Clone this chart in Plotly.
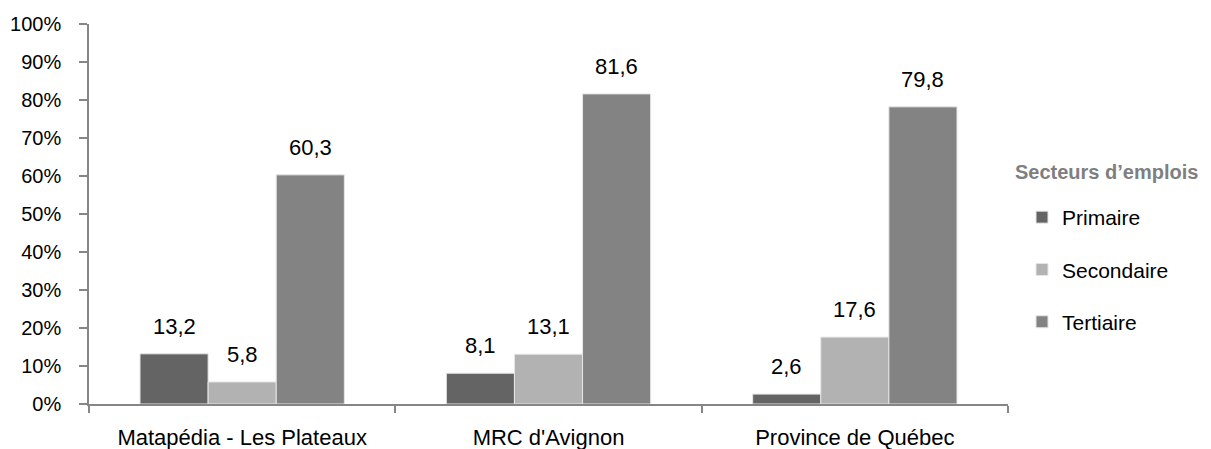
import plotly.graph_objects as go

categories = ["Matapédia - Les Plateaux", "MRC d'Avignon", "Province de Québec"]
series_names = ["Primaire", "Secondaire", "Tertiaire"]
primaire = [13.2, 8.1, 2.6]
secondaire = [5.8, 13.1, 17.6]
tertiaire = [60.3, 81.6, 78.2]
labels_primaire = ["13,2", "8,1", "2,6"]
labels_secondaire = ["5,8", "13,1", "17,6"]
labels_tertiaire = ["60,3", "81,6", "79,8"]
y_tickvals = [0, 10, 20, 30, 40, 50, 60, 70, 80, 90, 100]
y_ticktext = [f"{v}%" for v in y_tickvals]
legend_title = "Secteurs d’emplois"

colors = ["#646464", "#b2b2b2", "#838383"]
FONT = "Liberation Sans, Arial, sans-serif"

# page has an 8px body margin: figure drawn 8px in from the top-left corner
W, H = 1203, 441
L, T, R, B = 81, 16, 203, 45
plot_w = W - L - R
plot_h = H - T - B

fig = go.Figure()
all_values = [primaire, secondaire, tertiaire]
all_labels = [labels_primaire, labels_secondaire, labels_tertiaire]
for i, (name, vals) in enumerate(zip(series_names, all_values)):
    fig.add_trace(go.Bar(
        x=categories, y=vals, name=name,
        marker=dict(color=colors[i], line=dict(color="#e6e6e6", width=1)),
        legendgroup=name,
    ))

annotations = []
for i, (vals, labs) in enumerate(zip(all_values, all_labels)):
    for c, v, t in zip(categories, vals, labs):
        annotations.append(dict(
            x=c, y=v, text=t, showarrow=False, xref="x", yref="y",
            yanchor="bottom", yshift=13, xshift=(i - 1) * 68,
            font=dict(family=FONT, size=22, color="#000000"),
        ))

# legend title as a separate text so its indent can match the reference
annotations.append(dict(
    text=f"<b>{legend_title}</b>", showarrow=False,
    xref="paper", yref="paper", x=(1005 - L) / plot_w, y=(H - B - 164) / plot_h,
    xanchor="left", yanchor="middle",
    font=dict(family=FONT, size=20, color="#7f7f7f"),
))

fig.update_layout(
    width=W, height=H,
    margin=dict(l=L, r=R, t=T, b=B),
    paper_bgcolor="white", plot_bgcolor="white",
    barmode="group", bargap=0.333, bargroupgap=0,
    font=dict(family=FONT, size=20, color="#000000"),
    annotations=annotations,
    showlegend=True,
    legend=dict(
        xref="container", yref="container",
        x=1014 / W, y=1 - 189 / H, xanchor="left", yanchor="top",
        font=dict(family=FONT, size=21, color="#000000"),
        tracegroupgap=22, itemwidth=30,
        bgcolor="rgba(0,0,0,0)",
    ),
    xaxis=dict(
        automargin=False,
        showline=True, linecolor="#868686", linewidth=1.5,
        ticks="outside", tickson="boundaries", ticklen=7, tickcolor="#868686", tickwidth=1.5,
        ticklabelstandoff=13,
        tickfont=dict(family=FONT, size=22, color="#000000"),
        showgrid=False, zeroline=False,
    ),
    yaxis=dict(
        automargin=False,
        range=[0, 100], tickvals=y_tickvals, ticktext=y_ticktext,
        showline=True, linecolor="#868686", linewidth=1.5,
        ticks="outside", ticklen=8, tickcolor="#868686", tickwidth=1.5,
        ticklabelstandoff=14,
        tickfont=dict(family=FONT, size=20, color="#000000"),
        showgrid=False, zeroline=False,
    ),
)

fig.write_html("out.html")
